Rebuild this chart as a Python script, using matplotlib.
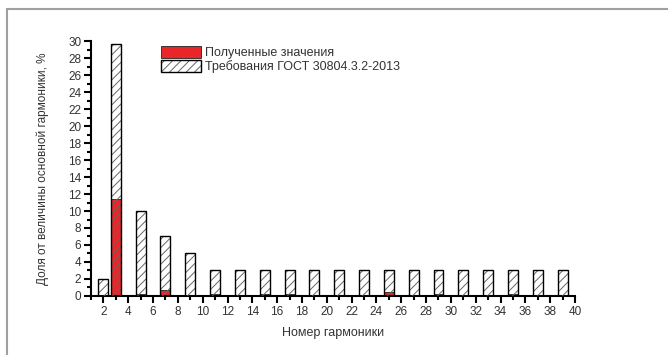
import numpy as np
import matplotlib.pyplot as plt
from matplotlib.patches import Rectangle
from matplotlib.legend_handler import HandlerTuple
from matplotlib.ticker import MultipleLocator

plt.rcParams['font.family'] = ['Liberation Sans', 'DejaVu Sans']
plt.rcParams['hatch.linewidth'] = 0.7

# номера гармоник и требования ГОСТ 30804.3.2-2013
garm_gost = [2, 3, 5, 7, 9, 11, 13, 15, 17, 19, 21, 23, 25, 27, 29, 31, 33, 35, 37, 39]
gost = [2, 29.7, 10, 7, 5, 3, 3, 3, 3, 3, 3, 3, 3, 3, 3, 3, 3, 3, 3, 3]

# полученные значения
garm_izm = [2, 3, 5, 7, 9, 11, 13, 15, 17, 19, 21, 23, 25, 27, 29, 31, 33, 35, 37, 39]
izm = [0.03, 11.4, 0.25, 0.7, 0.1, 0.25, 0.15, 0.2, 0.2, 0.15, 0.15, 0.1, 0.45,
       0.1, 0.2, 0.1, 0.05, 0.2, 0.05, 0.05]

fig = plt.figure(figsize=(6.68, 3.55), dpi=100)
ax = fig.add_axes([0.1362, 0.1662, 0.7246, 0.7183])

red = ax.bar(garm_izm, izm, width=0.8, color='#e8262a', edgecolor='#222222',
             linewidth=0.6, zorder=2)
# штриховка серым, контур чёрным
shtrih = ax.bar(garm_gost, gost, width=0.8, facecolor='none', edgecolor='#666666',
                hatch='////', linewidth=0, zorder=3)
kontur = ax.bar(garm_gost, gost, width=0.8, facecolor='none', edgecolor='black',
                linewidth=1.0, zorder=4)

ax.set_xlim(1, 40)
ax.set_ylim(0, 30)
ax.xaxis.set_major_locator(MultipleLocator(2))
ax.xaxis.set_minor_locator(MultipleLocator(1))
ax.yaxis.set_major_locator(MultipleLocator(2))
ax.yaxis.set_minor_locator(MultipleLocator(1))
ax.tick_params(which='major', length=5, width=1.5, labelsize=8.5, labelcolor='#333333', pad=2)
ax.tick_params(which='minor', length=3, width=1.5)

for s in ['top', 'right']:
    ax.spines[s].set_visible(False)
for s in ['left', 'bottom']:
    ax.spines[s].set_linewidth(1.5)

ax.set_xlabel('Номер гармоники', fontsize=9, color='#333333', labelpad=7)
ax.set_ylabel('Доля от величины основной гармоники, %', fontsize=8.5,
              color='#333333', labelpad=14)

leg = ax.legend([red, (shtrih, kontur)],
                ['Полученные значения', 'Требования ГОСТ 30804.3.2-2013'],
                handler_map={tuple: HandlerTuple(ndivide=1, pad=0)},
                loc='upper left', bbox_to_anchor=(0.125, 1.02), frameon=False,
                fontsize=9, handlelength=3.2, handleheight=1.1,
                handletextpad=0.3, labelspacing=0.05, borderpad=0.3)
for t in leg.get_texts():
    t.set_color('#333333')

# серая рамка вокруг рисунка
fig.patches.append(Rectangle((7 / 668, -0.1), 1.2, 1.1 - 9.5 / 355,
                             transform=fig.transFigure, fill=False,
                             edgecolor='#a0a0a0', linewidth=1.5))

fig.savefig('out.png', dpi=100)
